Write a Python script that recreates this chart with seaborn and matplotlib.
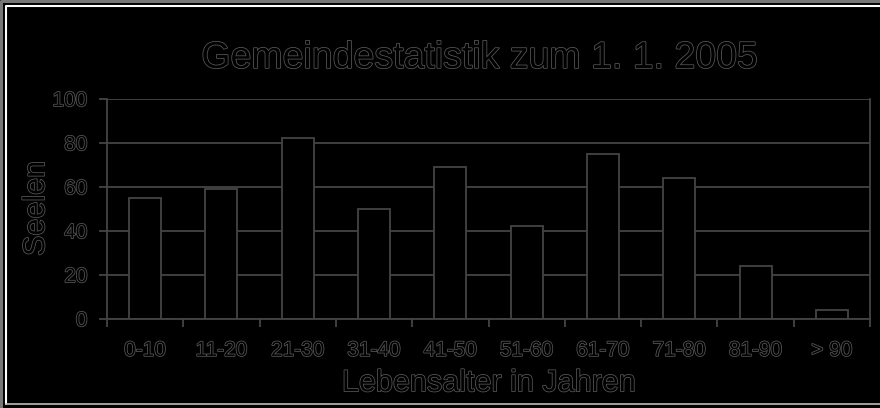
import matplotlib
matplotlib.use("Agg")
import matplotlib.pyplot as plt
import matplotlib.patheffects as pe
from matplotlib.lines import Line2D
import numpy as np
import seaborn as sns

age_groups = ['0-10', '11-20', '21-30', '31-40', '41-50',
              '51-60', '61-70', '71-80', '81-90', '> 90']
seelen = [55, 59, 82, 50, 69, 42, 75, 64, 24, 4]
y_ticks = [0, 20, 40, 60, 80, 100]

line_col = '#444444'
text_col = '#5a5a5a'
outline = [pe.Stroke(linewidth=1.1, foreground=text_col), pe.Normal()]

sns.set_style('white')
plt.rcParams['font.family'] = ['Liberation Sans', 'DejaVu Sans']

fig = plt.figure(figsize=(8.8, 4.08), dpi=100, facecolor='black')
ax = fig.add_axes([107 / 880, 89.3 / 408, 763 / 880, 220 / 408])
ax.set_facecolor('black')

sns.barplot(x=age_groups, y=seelen, color='black', saturation=1,
            edgecolor=line_col, linewidth=1.3, width=0.42, ax=ax)

ax.set_ylim(0, 100)
ax.set_xlim(-0.5, len(age_groups) - 0.5)
ax.set_yticks(y_ticks)
ax.yaxis.grid(True, color=line_col, linewidth=1.3)
ax.set_axisbelow(True)

for side in ['left', 'right', 'bottom']:
    ax.spines[side].set_visible(True)
    ax.spines[side].set_color(line_col)
    ax.spines[side].set_linewidth(1.3)
ax.spines['top'].set_visible(False)

ax.set_xticks(np.arange(-0.5, len(age_groups)), minor=True)
ax.tick_params(axis='x', which='major', length=0, pad=16, labelsize=15,
               labelcolor='black')
ax.tick_params(axis='x', which='minor', length=6, width=1.3, color=line_col,
               direction='out', bottom=True)
ax.tick_params(axis='y', length=6, width=1.3, color=line_col, direction='out',
               left=True, pad=8, labelsize=15, labelcolor='black')

for lbl in ax.get_xticklabels() + ax.get_yticklabels():
    lbl.set_path_effects(outline)

ax.set_xlabel('Lebensalter in Jahren', fontsize=22, color='black', labelpad=6,
              path_effects=outline)
ax.set_ylabel('Seelen', fontsize=22, color='black', path_effects=outline)
ax.yaxis.set_label_coords(-0.073, 0.5)
fig.text(0.545, 0.858, 'Gemeindestatistik zum 1. 1. 2005', ha='center',
         va='center', fontsize=27, color='black', path_effects=outline)

# frame around the chart
W, H = 880, 408
fig.add_artist(Line2D([1 / W, 1 / W, 1], [0, 1 - 1 / H, 1 - 1 / H],
                      transform=fig.transFigure, color='#777777', lw=2.2))
fig.add_artist(Line2D([6 / W, 6 / W, 1], [4 / H, 1 - 6 / H, 1 - 6 / H],
                      transform=fig.transFigure, color='white', lw=1.5))
fig.add_artist(Line2D([6 / W, 1], [4 / H, 4 / H],
                      transform=fig.transFigure, color='#bbbbbb', lw=1.2))

fig.savefig('out.png', dpi=100, facecolor='black')
